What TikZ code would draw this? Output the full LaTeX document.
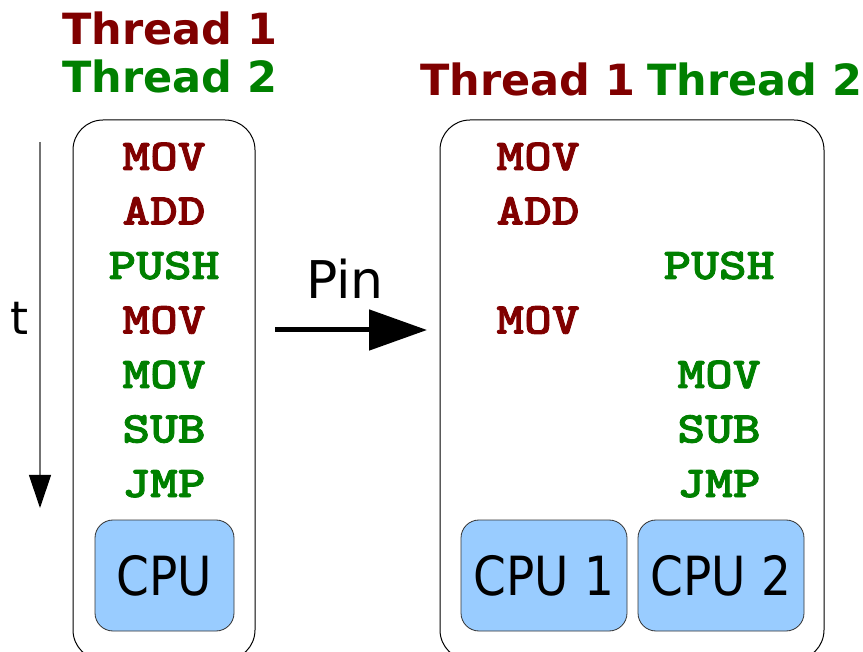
\documentclass[tikz,border=0pt]{standalone}
\usepackage{fontspec}
\setmainfont{DejaVu Sans}
\newfontfamily\monob[FakeStretch=1.2,FakeBold=2]{lmmonolt10-bold.otf}
\newfontfamily\cpufont[FakeStretch=0.87]{DejaVu Sans}
\usetikzlibrary{arrows.meta}
\definecolor{tred}{HTML}{800000}
\definecolor{tgreen}{HTML}{008000}
\definecolor{cpublue}{HTML}{99CCFF}
\begin{document}
\begin{tikzpicture}[x=1pt,y=-1pt,
  title/.style={inner sep=0pt,anchor=base west,font=\fontsize{43}{43}\selectfont\bfseries},
  instr/.style={inner sep=0pt,anchor=base,font=\monob\fontsize{44}{44}\selectfont},
  t1/.style={instr,text=tred},
  t2/.style={instr,text=tgreen},
  panel/.style={draw=black,line width=1pt,rounded corners=30pt},
  cpu/.style={draw=black!80,line width=0.8pt,fill=cpublue,rounded corners=18pt,
    minimum height=111pt,inner sep=0pt,font=\cpufont\fontsize{54}{54}\selectfont},
  lbl/.style={inner sep=0pt,anchor=base}]
\useasboundingbox (0,0) rectangle (863,652);
% panels
\node[panel,minimum width=182pt,minimum height=540pt] (left) at (164,390) {};
\node[panel,minimum width=384pt,minimum height=540pt] (right) at (632,390) {};
% titles
\node[title,text=tred] (lt1) at (62,45) {Thread 1};
\node[title,text=tgreen] (lt2) at (62,93) {Thread 2};
\node[title,text=tred] (rt1) at (420,96) {Thread 1};
\node[title,text=tgreen] (rt2) at (647,96) {Thread 2};
% left instructions
\node[t1] (l1) at (164,170) {MOV};
\node[t1] (l2) at (164,224.5) {ADD};
\node[t2] (l3) at (164,279) {PUSH};
\node[t1] (l4) at (164,333.5) {MOV};
\node[t2] (l5) at (164,388) {MOV};
\node[t2] (l6) at (164,442.5) {SUB};
\node[t2] (l7) at (164,497) {JMP};
% right instructions
\node[t1] (r1) at (538,170) {MOV};
\node[t1] (r2) at (538,224.5) {ADD};
\node[t2] (r3) at (719,279) {PUSH};
\node[t1] (r4) at (538,333.5) {MOV};
\node[t2] (r5) at (719,388) {MOV};
\node[t2] (r6) at (719,442.5) {SUB};
\node[t2] (r7) at (719,497) {JMP};
% CPUs
\node[cpu,minimum width=139pt] (cpu) at (164.5,575.5) {CPU};
\node[cpu,minimum width=166pt] (cpu1) at (544,575.5) {CPU 1};
\node[cpu,minimum width=166pt] (cpu2) at (721,575.5) {CPU 2};
% time arrow
\coordinate (ts) at (40,142);
\coordinate (te) at (40,508);
\draw[black!55,line width=1.2pt,-{Triangle[length=33pt,width=22pt,fill=black,color=black]}] (ts) -- (te);
\node[lbl,font=\fontsize{46}{46}\selectfont] (t) at (20,335) {t};
% pin arrow
\coordinate (ps) at (275,330);
\coordinate (pe) at (427,330);
\draw[black,line width=5pt,-{Triangle[length=58pt,width=40pt]}] (ps) -- (pe);
\node[lbl,font=\fontsize{52}{52}\selectfont] (pin) at (345,299) {Pin};
\end{tikzpicture}
\end{document}
